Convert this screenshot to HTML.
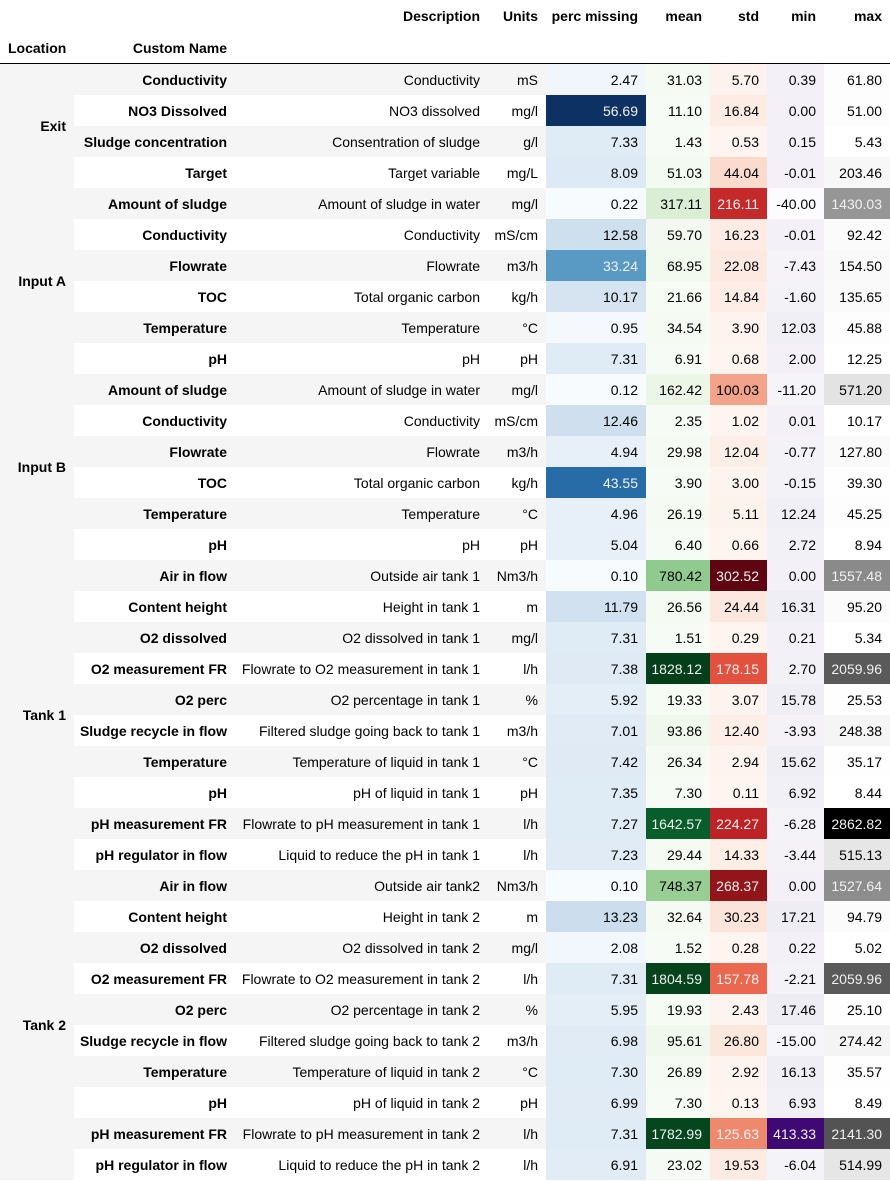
<!DOCTYPE html>
<html><head><meta charset="utf-8">
<style>
body{margin:0;background:#fff;font-family:"Liberation Sans",Arial,sans-serif;font-size:14px;color:#000;}
table{border-collapse:collapse;table-layout:fixed;width:890px;}
td,th{padding:0 8px 0 0;text-align:right;white-space:nowrap;overflow:hidden;height:31px;}
thead th{height:32px;font-weight:bold;}
thead tr.h2 th{border-bottom:1px solid #000;height:31px;}
th.loc{background:#f5f5f5;font-weight:bold;}
th.nm{font-weight:bold;}
tr.g .st{background:#f5f5f5;}
td.v{padding-right:8px;}
</style></head><body>
<table>
<colgroup><col style="width:74px"><col style="width:161px"><col style="width:253px"><col style="width:58px"><col style="width:100px"><col style="width:64px"><col style="width:57px"><col style="width:57px"><col style="width:66px"></colgroup>
<thead>
<tr><th></th><th></th><th>Description</th><th>Units</th><th>perc missing</th><th>mean</th><th>std</th><th>min</th><th>max</th></tr>
<tr class="h2"><th style="text-align:left;padding-left:8px">Location</th><th>Custom Name</th><th></th><th></th><th></th><th></th><th></th><th></th><th></th></tr>
</thead>
<tbody id="tb"></tbody>
</table>
<script>
const groups=[["Exit",4],["Input A",6],["Input B",6],["Tank 1",10],["Tank 2",10]];
const names=["Conductivity","NO3 Dissolved","Sludge concentration","Target","Amount of sludge","Conductivity","Flowrate","TOC","Temperature","pH","Amount of sludge","Conductivity","Flowrate","TOC","Temperature","pH","Air in flow","Content height","O2 dissolved","O2 measurement FR","O2 perc","Sludge recycle in flow","Temperature","pH","pH measurement FR","pH regulator in flow","Air in flow","Content height","O2 dissolved","O2 measurement FR","O2 perc","Sludge recycle in flow","Temperature","pH","pH measurement FR","pH regulator in flow"];
const descs=["Conductivity","NO3 dissolved","Consentration of sludge","Target variable","Amount of sludge in water","Conductivity","Flowrate","Total organic carbon","Temperature","pH","Amount of sludge in water","Conductivity","Flowrate","Total organic carbon","Temperature","pH","Outside air tank 1","Height in tank 1","O2 dissolved in tank 1","Flowrate to O2 measurement in tank 1","O2 percentage in tank 1","Filtered sludge going back to tank 1","Temperature of liquid in tank 1","pH of liquid in tank 1","Flowrate to pH measurement in tank 1","Liquid to reduce the pH in tank 1","Outside air tank2","Height in tank 2","O2 dissolved in tank 2","Flowrate to O2 measurement in tank 2","O2 percentage in tank 2","Filtered sludge going back to tank 2","Temperature of liquid in tank 2","pH of liquid in tank 2","Flowrate to pH measurement in tank 2","Liquid to reduce the pH in tank 2"];
const units=["mS","mg/l","g/l","mg/L","mg/l","mS/cm","m3/h","kg/h","°C","pH","mg/l","mS/cm","m3/h","kg/h","°C","pH","Nm3/h","m","mg/l","l/h","%","m3/h","°C","pH","l/h","l/h","Nm3/h","m","mg/l","l/h","%","m3/h","°C","pH","l/h","l/h"];
const percMissing=[2.47,56.69,7.33,8.09,0.22,12.58,33.24,10.17,0.95,7.31,0.12,12.46,4.94,43.55,4.96,5.04,0.10,11.79,7.31,7.38,5.92,7.01,7.42,7.35,7.27,7.23,0.10,13.23,2.08,7.31,5.95,6.98,7.30,6.99,7.31,6.91];
const meanVals=[31.03,11.10,1.43,51.03,317.11,59.70,68.95,21.66,34.54,6.91,162.42,2.35,29.98,3.90,26.19,6.40,780.42,26.56,1.51,1828.12,19.33,93.86,26.34,7.30,1642.57,29.44,748.37,32.64,1.52,1804.59,19.93,95.61,26.89,7.30,1782.99,23.02];
const stdVals=[5.70,16.84,0.53,44.04,216.11,16.23,22.08,14.84,3.90,0.68,100.03,1.02,12.04,3.00,5.11,0.66,302.52,24.44,0.29,178.15,3.07,12.40,2.94,0.11,224.27,14.33,268.37,30.23,0.28,157.78,2.43,26.80,2.92,0.13,125.63,19.53];
const minVals=[0.39,0.00,0.15,-0.01,-40.00,-0.01,-7.43,-1.60,12.03,2.00,-11.20,0.01,-0.77,-0.15,12.24,2.72,0.00,16.31,0.21,2.70,15.78,-3.93,15.62,6.92,-6.28,-3.44,0.00,17.21,0.22,-2.21,17.46,-15.00,16.13,6.93,413.33,-6.04];
const maxVals=[61.80,51.00,5.43,203.46,1430.03,92.42,154.50,135.65,45.88,12.25,571.20,10.17,127.80,39.30,45.25,8.94,1557.48,95.20,5.34,2059.96,25.53,248.38,35.17,8.44,2862.82,515.13,1527.64,94.79,5.02,2059.96,25.10,274.42,35.57,8.49,2141.30,514.99];
const cmaps={
blues:["#f7fbff","#deebf7","#c6dbef","#9ecae1","#6baed6","#4292c6","#2171b5","#08519c","#08306b"],
greens:["#f7fcf5","#e5f5e0","#c7e9c0","#a1d99b","#74c476","#41ab5d","#238b45","#006d2c","#00441b"],
reds:["#fff5f0","#fee0d2","#fcbba1","#fc9272","#fb6a4a","#ef3b2c","#cb181d","#a50f15","#67000d"],
purples:["#fcfbfd","#efedf5","#dadaeb","#bcbddc","#9e9ac8","#807dba","#6a51a3","#54278f","#3f007d"],
greys:["#ffffff","#f0f0f0","#d9d9d9","#bdbdbd","#969696","#737373","#525252","#252525","#000000"]};
function hx(h){return [1,3,5].map(i=>parseInt(h.substr(i,2),16));}
function cmap(name,t){const s=cmaps[name];t=Math.max(0,Math.min(1,t));const p=t*(s.length-1);const i=Math.min(Math.floor(p),s.length-2);const f=p-i;const a=hx(s[i]),b=hx(s[i+1]);return a.map((v,k)=>v+(b[k]-v)*f);}
function lum(c){const l=c.map(v=>{v/=255;return v<=0.03928?v/12.92:Math.pow((v+0.055)/1.055,2.4)});return 0.2126*l[0]+0.7152*l[1]+0.0722*l[2];}
function soften(c){const g=(c[0]+c[1]+c[2])/3;return c.map(v=>Math.round(v*0.86+g*0.14));}
const cols=[["perc-missing",percMissing,"blues"],["mean",meanVals,"greens"],["std",stdVals,"reds"],["min",minVals,"purples"],["max",maxVals,"greys"]];
const tb=document.getElementById('tb');
let r=0;
groups.forEach(([g,n])=>{
 for(let j=0;j<n;j++,r++){
  const tr=document.createElement('tr');
  
  
  if(r%2===0)tr.className='g';
  if(j===0){const th=document.createElement('th');th.rowSpan=n;th.className='loc';th.textContent=g;
   
   
   tr.appendChild(th);}
  const a=document.createElement('th');a.className='nm st';a.textContent=names[r];
  
  
  tr.appendChild(a);
  const d=document.createElement('td');d.className='st';d.textContent=descs[r];
  
  
  tr.appendChild(d);
  const u=document.createElement('td');u.className='st';u.textContent=units[r];
  
  
  tr.appendChild(u);
  cols.forEach(([cn,arr,cm])=>{
   const mn=Math.min(...arr),mx=Math.max(...arr);
   const c0=cmap(cm,(arr[r]-mn)/(mx-mn));
   const c=soften(c0);
   const td=document.createElement('td');td.className='v';
   td.textContent=arr[r].toFixed(2);
   td.style.background='rgb('+c.join(',')+')';
   td.style.color=lum(c0)<0.408?'#f1f1f1':'#000';
   
   
   tr.appendChild(td);
  });
  tb.appendChild(tr);
 }
});
</script>
</body></html>
